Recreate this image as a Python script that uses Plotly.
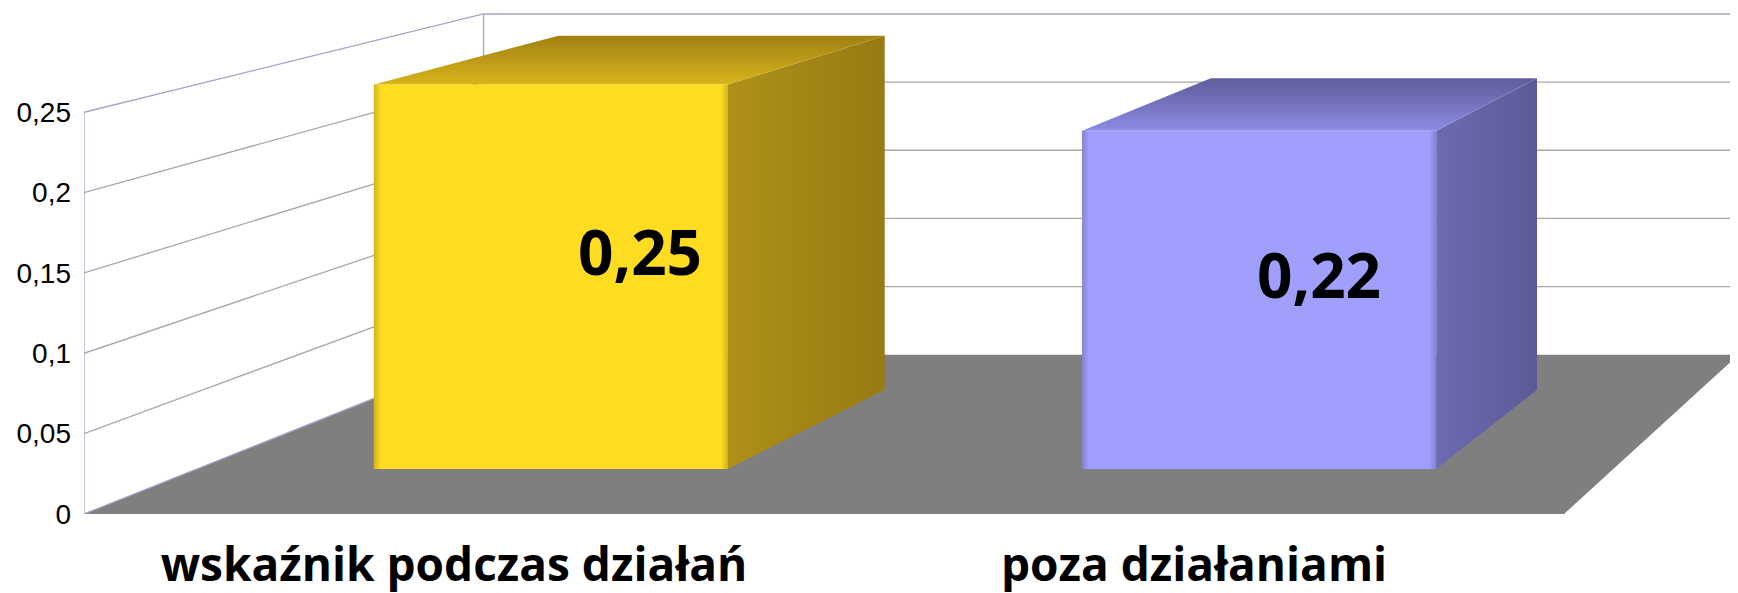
import plotly.graph_objects as go

# ---------------- data ----------------
categories = ["wskaźnik podczas działań", "poza działaniami"]
values = [0.25, 0.22]
y_ticks = [0, 0.05, 0.1, 0.15, 0.2, 0.25]

# ---------------- style ----------------
front_colors = ["#FDDC22", "#A0A0FC"]
front_edge = ["#d2b31a", "#8282d6"]
top_colors = [("#d8b41c", "#9f8113"), ("#8d8be2", "#5e5c99")]
side_colors = [("#ae901a", "#987a12"), ("#6d6bb1", "#5c5a96")]
floor_color = "#7f7f7f"
grid_color = "#a8a8a8"
edge_color = "#a4a4c8"

# perspective of the 3-D box (front-plane data units)
VX, VY = 3.552, 0.6523     # vanishing point
Z0 = 5.579                 # perspective depth constant (depth 0..1)
BAR_LO, BAR_HI = 0.25, 0.75  # bar footprint inside its category cell

# the page body has an 8 px margin; the figure is sized to fill the rest
PAGE_OFFSET = 8
W, H = 1738 - PAGE_OFFSET, 593 - PAGE_OFFSET
ML, MB = 84 - PAGE_OFFSET, 79
PX_X, PX_Y = 740, 1607     # pixels per data unit on the front plane

n = len(categories)
y_max = max(y_ticks)


def proj(X, Y, d):
    s = Z0 / (Z0 + d)
    return VX + s * (X - VX), VY + s * (Y - VY)


def poly(points):
    xs, ys = zip(*[proj(*p) for p in points])
    return list(xs) + [xs[0]], list(ys) + [ys[0]]


fig = go.Figure()

# floor
fx, fy = poly([(0, 0, 0), (n, 0, 0), (n, 0, 1), (0, 0, 1)])
fig.add_trace(go.Scatter(x=fx, y=fy, mode="lines", fill="toself",
                         fillcolor=floor_color, line=dict(width=0),
                         hoverinfo="skip", showlegend=False))

# gridlines on left and back walls
gx, gy = [], []
for t in y_ticks[1:-1]:
    for a, b in [((0, t, 0), (0, t, 1)), ((0, t, 1), (n, t, 1))]:
        pa, pb = proj(*a), proj(*b)
        gx += [pa[0], pb[0], None]
        gy += [pa[1], pb[1], None]
fig.add_trace(go.Scatter(x=gx, y=gy, mode="lines",
                         line=dict(color=grid_color, width=1.3),
                         hoverinfo="skip", showlegend=False))

# wall edges
ex, ey = [], []
for a, b in [((0, 0, 0), (0, y_max, 0)), ((0, y_max, 0), (0, y_max, 1)),
             ((0, 0, 1), (0, y_max, 1)), ((0, y_max, 1), (n, y_max, 1)),
             ((0, 0, 0), (0, 0, 1))]:
    pa, pb = proj(*a), proj(*b)
    ex += [pa[0], pb[0], None]
    ey += [pa[1], pb[1], None]
fig.add_trace(go.Scatter(x=ex, y=ey, mode="lines",
                         line=dict(color=edge_color, width=1.3),
                         hoverinfo="skip", showlegend=False))

# bars
for i, v in enumerate(values):
    x0, x1 = i + BAR_LO, i + BAR_HI
    d0, d1 = BAR_LO, BAR_HI
    # right side
    sx, sy = poly([(x1, 0, d0), (x1, 0, d1), (x1, v, d1), (x1, v, d0)])
    fig.add_trace(go.Scatter(
        x=sx, y=sy, mode="lines", fill="toself", line=dict(width=0),
        fillgradient=dict(type="horizontal",
                          colorscale=[[0, side_colors[i][0]], [1, side_colors[i][1]]],
                          start=proj(x1, 0, d0)[0], stop=proj(x1, 0, d1)[0]),
        hoverinfo="skip", showlegend=False))
    # top
    tx, ty = poly([(x0, v, d0), (x1, v, d0), (x1, v, d1), (x0, v, d1)])
    fig.add_trace(go.Scatter(
        x=tx, y=ty, mode="lines", fill="toself", line=dict(width=0),
        fillgradient=dict(type="vertical",
                          colorscale=[[0, top_colors[i][0]], [1, top_colors[i][1]]],
                          start=proj(x0, v, d0)[1], stop=proj(x0, v, d1)[1]),
        hoverinfo="skip", showlegend=False))
    # front
    qx, qy = poly([(x0, 0, d0), (x1, 0, d0), (x1, v, d0), (x0, v, d0)])
    fig.add_trace(go.Scatter(
        x=qx, y=qy, mode="lines", fill="toself", line=dict(width=0),
        fillgradient=dict(type="horizontal",
                          colorscale=[[0, front_edge[i]], [0.02, front_colors[i]],
                                      [0.98, front_colors[i]], [1, front_edge[i]]],
                          start=qx[0], stop=qx[1]),
        hoverinfo="skip", showlegend=False))

# value labels at the projected centre of each bar
for i, v in enumerate(values):
    cx, cy = proj(i + 0.5, v / 2, 0.5)
    fig.add_annotation(x=cx, y=cy, text=f"{v:.2f}".replace(".", ","),
                       showarrow=False, yshift=-8,
                       font=dict(family="Open Sans", size=62, color="black",
                                 weight="bold"))

fig.update_layout(
    width=W, height=H,
    margin=dict(l=ML, r=0, t=0, b=MB, autoexpand=False),
    paper_bgcolor="white", plot_bgcolor="white",
    separators=", ",
    showlegend=False,
    xaxis=dict(range=[0, (W - ML) / PX_X], tickvals=[i + 0.5 for i in range(n)],
               ticktext=categories, showgrid=False, zeroline=False,
               showline=False, ticks="", ticklabelstandoff=20,
               automargin=False,
               tickfont=dict(family="Open Sans", size=46, color="black",
                             weight="bold")),
    yaxis=dict(range=[0, (H - MB) / PX_Y], tickvals=y_ticks, showgrid=False,
               zeroline=False, showline=False, ticks="",
               ticklabelstandoff=12, automargin=False,
               tickfont=dict(family="Liberation Sans", size=28, color="black")),
)

fig.write_html("out.html")
